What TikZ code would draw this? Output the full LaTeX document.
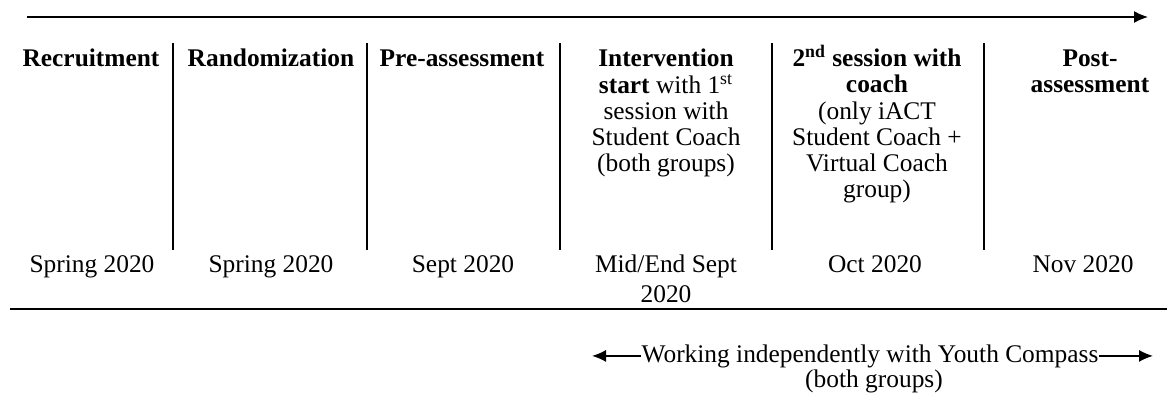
\documentclass[tikz,border=0pt]{standalone}
\usepackage{fontspec}
\setmainfont{Liberation Serif}
\usetikzlibrary{arrows.meta}

\begin{document}
\begin{tikzpicture}[x=0.5pt, y=-0.5pt, >={Latex[length=7pt,width=6pt]}, line width=1pt]
\useasboundingbox (0,0) rectangle (1167,395);

\tikzstyle{every node}=[inner sep=0, anchor=base, align=center, font=\fontsize{12.7}{13.15}\selectfont]
% phase headings (placed by the baseline of their last line)
\draw (91,  67)  node (rec)  {\textbf{Recruitment}}
      (271, 67)  node (rand) {\textbf{Randomization}}
      (462, 67)  node (pre)  {\textbf{Pre-assessment}}
      (666, 172) node (int)  {\textbf{Intervention}\\\textbf{start} with 1\textsuperscript{st}\\session with\\Student Coach\\(both groups)}
      (877, 198) node (ses)  {\textbf{2\textsuperscript{nd} session with}\\\textbf{coach}\\(only iACT\\Student Coach +\\Virtual Coach\\group)}
      (1090, 93) node (post) {\textbf{Post-}\\\textbf{assessment}};

\tikzstyle{every node}=[inner sep=0, anchor=base, align=center, font=\fontsize{12.7}{14.8}\selectfont]
% dates
\draw (92,  273) node (drec)  {Spring 2020}
      (271, 273) node (drand) {Spring 2020}
      (463, 273) node (dpre)  {Sept 2020}
      (666, 302) node (dint)  {Mid/End Sept\\2020}
      (875, 273) node (dses)  {Oct 2020}
      (1083, 273) node (dpost) {Nov 2020};

% self-guided part
\draw (870, 362) node (work) {Working independently with Youth Compass}
      (874, 387) node (grp)  {(both groups)};

\coordinate (tstart) at (27, 17);
\coordinate (tend)   at (1148, 17);
\coordinate (wl)     at (592, 357);
\coordinate (wr)     at (1153, 357);

\draw [->, line width=0.7pt] (tstart) -- (tend);
\foreach \x in {173, 367, 560, 772, 984}
  \draw (\x, 43) -- (\x, 250);
\draw (10, 309) -- (1167, 309);
\draw [->, line width=0.7pt] (work.west) -- (work.west -| wl);
\draw [->, line width=0.7pt] (work.east) -- (work.east -| wr);

\end{tikzpicture}
\end{document}
